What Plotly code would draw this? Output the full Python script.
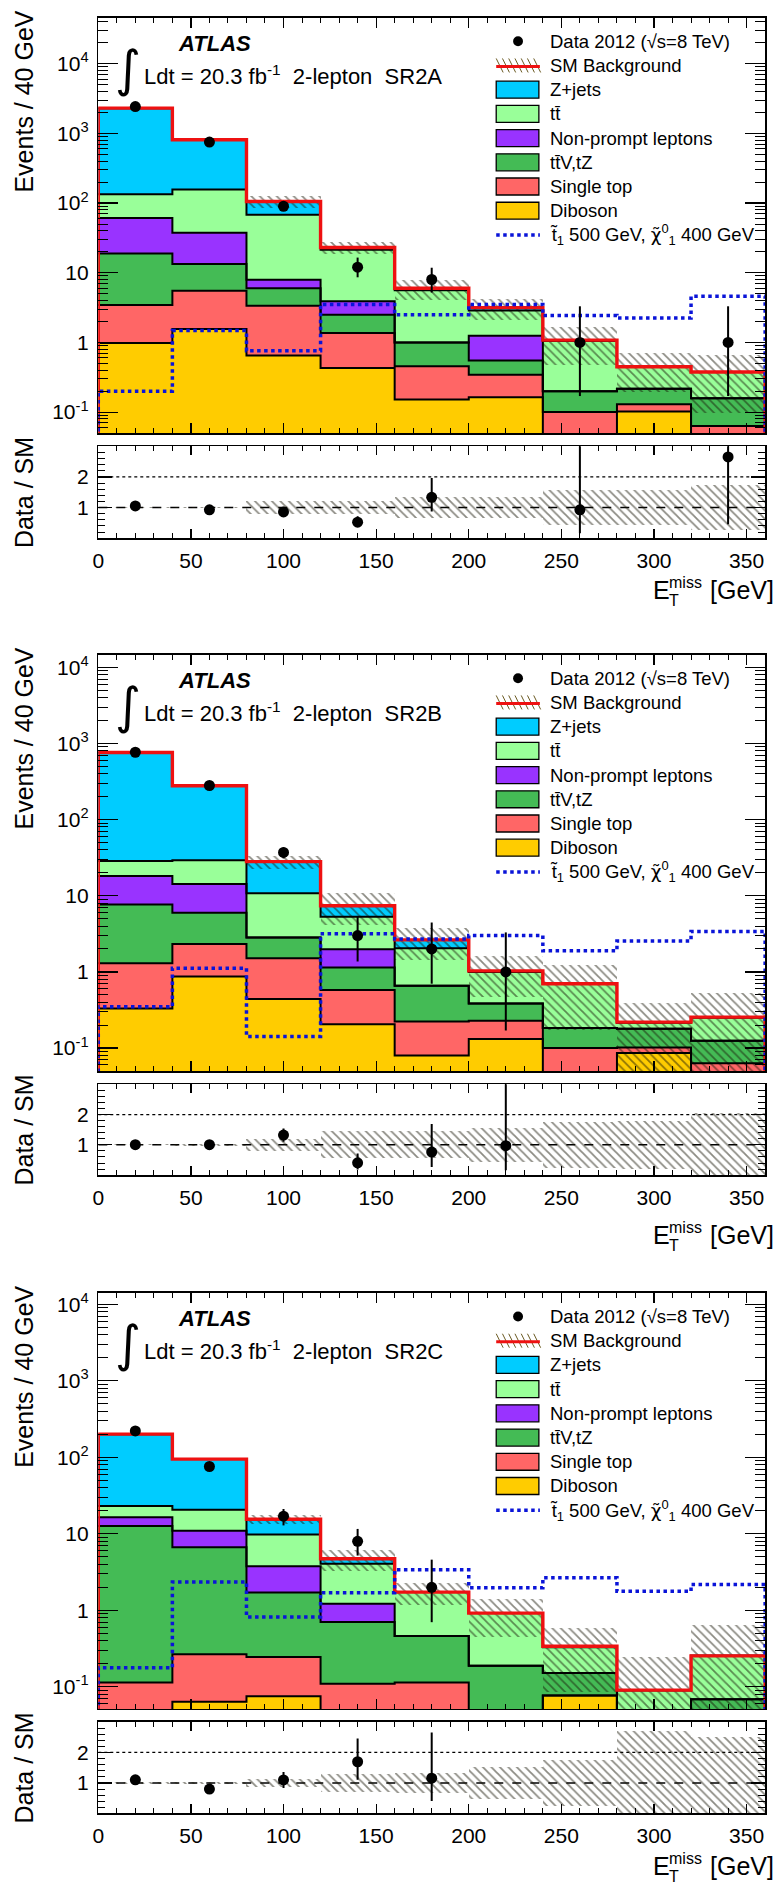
import numpy as np
import plotly.graph_objects as go

W, H = 782, 1890
FONT = "Liberation Sans, Arial, Helvetica, sans-serif"

# ---------------- data ----------------
bin_edges = [0, 40, 80, 120, 160, 200, 240, 280, 320, 360]
bin_centers = [20, 60, 100, 140, 180, 220, 260, 300, 340]
region_names = ["SR2A", "SR2B", "SR2C"]

# SR2A
sr2a_diboson = [0.98, 1.56, 0.65, 0.43, 0.152, 0.164, 0.0, 0.102, 0.0]
sr2a_singletop = [2.47, 3.94, 2.72, 0.93, 0.304, 0.179, 0.10, 0.028, 0.063]
sr2a_ttv = [15.5, 7.8, 2.63, 1.14, 0.544, 0.207, 0.10, 0.086, 0.095]
sr2a_nonprompt = [42.0, 24.2, 1.9, 1.39, 0.0, 0.70, 0.0, 0.0, 0.0]
sr2a_ttbar = [73.0, 119.5, 60.1, 17.5, 4.6, 1.61, 0.85, 0.231, 0.219]
sr2a_zjets = [2166.0, 653.0, 37.0, 1.6, 0.4, 0.3, 0.03, 0.0, 0.0]
sr2a_data = [2420, 750, 90, 12, 8, 0, 1, 0, 1]
sr2a_data_up = [49, 27, 9.5, 4.5, 3.8, 0, 2.3, 0, 2.3]
sr2a_data_dn = [49, 27, 9.5, 3.4, 2.8, 0, 0.83, 0, 0.83]
sr2a_signal = [0.20, 1.48, 0.76, 3.5, 2.5, 3.5, 2.43, 2.24, 4.6]
sr2a_relunc = [0.03, 0.03, 0.2, 0.2, 0.33, 0.33, 0.56, 0.56, 0.74]

# SR2B
sr2b_diboson = [0.33, 0.87, 0.44, 0.206, 0.08, 0.132, 0.0, 0.086, 0.0]
sr2b_singletop = [0.97, 1.46, 1.07, 0.374, 0.144, 0.097, 0.10, 0.016, 0.063]
sr2b_ttv = [6.4, 3.67, 1.31, 0.56, 0.432, 0.156, 0.083, 0.077, 0.062]
sr2b_nonprompt = [10.5, 8.3, 0.0, 0.85, 0.0, 0.0, 0.0, 0.0, 0.0]
sr2b_ttbar = [10.4, 14.9, 7.98, 3.31, 1.394, 0.615, 0.517, 0.036, 0.125]
sr2b_zjets = [731.0, 249.0, 17.2, 2.1, 0.58, 0.03, 0.0, 0.004, 0.005]
sr2b_data = [765, 280, 37, 3, 2, 1, 0, 0, 0]
sr2b_data_up = [28, 17, 6.1, 2.3, 2.45, 2.3, 0, 0, 0]
sr2b_data_dn = [28, 17, 6.1, 1.63, 1.3, 0.83, 0, 0, 0]
sr2b_signal = [0.35, 1.12, 0.142, 3.16, 2.7, 3.0, 1.89, 2.55, 3.4]
sr2b_relunc = [0.02, 0.04, 0.2, 0.45, 0.45, 0.55, 0.75, 0.8, 1.05]

# SR2C
sr2c_diboson = [0.0, 0.064, 0.075, 0.0, 0.0, 0.0, 0.077, 0.0, 0.0]
sr2c_singletop = [0.114, 0.203, 0.171, 0.11, 0.114, 0.0, 0.0, 0.0, 0.0]
sr2c_ttv = [12.59, 6.43, 1.47, 0.595, 0.348, 0.188, 0.075, 0.0, 0.069]
sr2c_nonprompt = [3.8, 4.3, 2.06, 0.515, 0.0, 0.0, 0.0, 0.0, 0.0]
sr2c_ttbar = [6.7, 9.7, 6.02, 2.84, 1.27, 0.732, 0.178, 0.0905, 0.185]
sr2c_zjets = [178.0, 74.3, 5.7, 0.66, 0.0, 0.0, 0.009, 0.0, 0.0]
sr2c_data = [222, 76, 17, 8, 2, 0, 0, 0, 0]
sr2c_data_up = [15, 8.7, 4.1, 3.6, 2.6, 0, 0, 0, 0]
sr2c_data_dn = [15, 8.7, 4.1, 2.8, 1.3, 0, 0, 0, 0]
sr2c_signal = [0.177, 2.35, 0.82, 1.70, 3.39, 1.98, 2.67, 1.77, 2.18]
sr2c_relunc = [0.03, 0.03, 0.14, 0.3, 0.33, 0.52, 0.75, 1.7, 1.5]

process_names = ["Diboson", "Single top", "tt\u0304V,tZ", "Non-prompt leptons", "tt\u0304", "Z+jets"]
process_colors = ["#ffcc00", "#ff6666", "#44bb55", "#9933ff", "#99ff99", "#00ccff"]

panels = [
    dict(comps=[sr2a_diboson, sr2a_singletop, sr2a_ttv, sr2a_nonprompt, sr2a_ttbar, sr2a_zjets],
         data=sr2a_data, up=sr2a_data_up, dn=sr2a_data_dn, sig=sr2a_signal, unc=sr2a_relunc),
    dict(comps=[sr2b_diboson, sr2b_singletop, sr2b_ttv, sr2b_nonprompt, sr2b_ttbar, sr2b_zjets],
         data=sr2b_data, up=sr2b_data_up, dn=sr2b_data_dn, sig=sr2b_signal, unc=sr2b_relunc),
    dict(comps=[sr2c_diboson, sr2c_singletop, sr2c_ttv, sr2c_nonprompt, sr2c_ttbar, sr2c_zjets],
         data=sr2c_data, up=sr2c_data_up, dn=sr2c_data_dn, sig=sr2c_signal, unc=sr2c_relunc),
]

# ---------------- layout geometry (pixels) ----------------
X0, X1 = 93, 765
main_top = [14.7, 652.7, 1292.0]
main_bot = [430.7, 1070.0, 1708.7]
ratio_top = [444.0, 1083.0, 1721.7]
ratio_bot = [536.0, 1174.0, 1813.3]
xtitle_y = [588, 1234, 1866]
main_yrange = [[-1.30, 4.66], [-1.305, 4.165], [-1.29, 4.15]]

TINY = 1e-6
HATCH = "#1a1808"
HATCH_PATTERN = dict(shape="\\", fgcolor=HATCH, bgcolor="rgba(0,0,0,0)", size=6, solidity=0.3)


def py(p):
    return 1 - p / H


def px(p):
    return p / W


fig = go.Figure()
annotations = []
shapes = []
layout_axes = {}

for i, P in enumerate(panels):
    nm = 2 * i + 1
    nr = 2 * i + 2
    xm, ym = f"x{nm}", f"y{nm}"
    xr, yr = f"x{nr}", f"y{nr}"

    comps = np.array(P["comps"], dtype=float)
    cum = np.cumsum(comps, axis=0)
    total = cum[-1]

    # stacked bars
    for k in range(6):
        base = cum[k - 1] if k > 0 else np.zeros(9)
        base_c = np.where(base > 0, base, TINY)
        fig.add_trace(go.Bar(
            x=bin_centers, y=cum[k] - base_c, base=base_c, width=40,
            marker=dict(color=process_colors[k], line=dict(width=0)),
            xaxis=xm, yaxis=ym, showlegend=False, hoverinfo="skip"))
    # stack outlines
    for k in range(6):
        yy = np.where(cum[k] > 0, cum[k], TINY)
        fig.add_trace(go.Scatter(
            x=bin_edges, y=list(yy) + [yy[-1]], mode="lines",
            line=dict(color="black", width=2, shape="hv"),
            xaxis=xm, yaxis=ym, showlegend=False, hoverinfo="skip"))
    # uncertainty hatch
    unc = np.array(P["unc"])
    lo = np.maximum(total * (1 - unc), TINY)
    hi = total * (1 + unc)
    fig.add_trace(go.Bar(
        x=bin_centers, y=hi - lo, base=lo, width=40,
        marker=dict(color="rgba(0,0,0,0)", line=dict(width=0), pattern=HATCH_PATTERN),
        xaxis=xm, yaxis=ym, showlegend=False, hoverinfo="skip"))
    # total red line
    fig.add_trace(go.Scatter(
        x=[0] + bin_edges + [360], y=[TINY] + list(total) + [total[-1], TINY], mode="lines",
        line=dict(color="#ee1111", width=3.4, shape="hv"),
        xaxis=xm, yaxis=ym, showlegend=False, hoverinfo="skip"))
    # signal
    sig = P["sig"]
    fig.add_trace(go.Scatter(
        x=[0] + bin_edges + [360], y=[TINY] + list(sig) + [sig[-1], TINY], mode="lines",
        line=dict(color="#0a14d8", width=3.5, shape="hv", dash="dot"),
        xaxis=xm, yaxis=ym, showlegend=False, hoverinfo="skip"))
    # data
    d = np.array(P["data"], dtype=float)
    mask = d > 0
    dx = [c for c, m in zip(bin_centers, mask) if m]
    dy = d[mask]
    dup = np.array(P["up"], dtype=float)[mask]
    ddn = np.array(P["dn"], dtype=float)[mask]
    fig.add_trace(go.Scatter(
        x=dx, y=dy, mode="markers",
        marker=dict(color="black", size=11),
        error_y=dict(type="data", array=dup, arrayminus=ddn, thickness=2, width=0, color="black"),
        xaxis=xm, yaxis=ym, showlegend=False, hoverinfo="skip"))

    # ---- ratio panel ----
    rlo = np.maximum(1 - unc, 0)
    rhi = 1 + unc
    fig.add_trace(go.Bar(
        x=bin_centers, y=rhi - rlo, base=rlo, width=40,
        marker=dict(color="rgba(0,0,0,0)", line=dict(width=0), pattern=HATCH_PATTERN),
        xaxis=xr, yaxis=yr, showlegend=False, hoverinfo="skip"))
    tot_m = total[mask]
    fig.add_trace(go.Scatter(
        x=dx, y=dy / tot_m, mode="markers",
        marker=dict(color="black", size=11),
        error_y=dict(type="data", array=dup / tot_m, arrayminus=ddn / tot_m,
                     thickness=2, width=0, color="black"),
        xaxis=xr, yaxis=yr, showlegend=False, hoverinfo="skip"))
    shapes.append(dict(type="line", xref=xr, yref=yr, x0=0, x1=360, y0=1, y1=1,
                       line=dict(color="black", width=1.5, dash="dash"), layer="below"))
    shapes.append(dict(type="line", xref=xr, yref=yr, x0=0, x1=360, y0=2, y1=2,
                       line=dict(color="black", width=1.3, dash="dot"), layer="below"))

    # ---- axes ----
    xdom = [px(X0), px(X1)]
    minor_log = [m * 10 ** e for e in range(-2, 5) for m in range(2, 10)]
    axcommon = dict(showline=True, linecolor="black", linewidth=1.5, mirror="allticks",
                    ticks="inside", tickcolor="black", showgrid=False, zeroline=False)
    key = "xaxis" if nm == 1 else f"xaxis{nm}"
    layout_axes[key] = dict(axcommon, domain=xdom, anchor=ym, range=[0, 360],
                            tickvals=[0, 50, 100, 150, 200, 250, 300, 350], ticklen=10, tickwidth=1.2,
                            showticklabels=False,
                            minor=dict(dtick=10, tick0=0, ticklen=5, ticks="inside", tickcolor="black", tickwidth=1))
    layout_axes["yaxis" if nm == 1 else f"yaxis{nm}"] = dict(
        axcommon, domain=[py(main_bot[i]), py(main_top[i])], anchor=xm, type="log",
        range=main_yrange[i], tickvals=[0.1, 1, 10, 100, 1000, 10000],
        ticktext=["10<sup>-1</sup>", "1", "10", "10<sup>2</sup>", "10<sup>3</sup>", "10<sup>4</sup>"],
        ticklen=20, tickwidth=1.2, ticklabelstandoff=4,
        tickfont=dict(size=21, family=FONT, color="black"),
        minor=dict(tickvals=minor_log, ticklen=10, ticks="inside", tickcolor="black", tickwidth=1))
    layout_axes[f"xaxis{nr}"] = dict(axcommon, domain=xdom, anchor=yr, range=[0, 360],
                                     tickvals=[0, 50, 100, 150, 200, 250, 300, 350],
                                     ticklen=9, tickwidth=1.2, ticklabelstandoff=3,
                                     tickfont=dict(size=21, family=FONT, color="black"),
                                     minor=dict(dtick=10, tick0=0, ticklen=5, ticks="inside",
                                                tickcolor="black", tickwidth=1))
    layout_axes[f"yaxis{nr}"] = dict(axcommon, domain=[py(ratio_bot[i]), py(ratio_top[i])], anchor=xr,
                                     range=[0, 3], tickvals=[1, 2], ticklen=14, tickwidth=1.2,
                                     ticklabelstandoff=4,
                                     tickfont=dict(size=21, family=FONT, color="black"),
                                     minor=dict(tickvals=[0.2, 0.4, 0.6, 0.8, 1.2, 1.4, 1.6, 1.8, 2.2, 2.4, 2.6, 2.8],
                                                ticklen=7, ticks="inside", tickcolor="black", tickwidth=1))

    # ---- texts ----
    t0 = main_top[i]
    annotations.append(dict(text="Events / 40 GeV", x=px(18), y=py(t0 - 9), xref="paper", yref="paper",
                            textangle=-90, xanchor="center", yanchor="top", showarrow=False,
                            font=dict(size=25, family=FONT, color="black")))
    annotations.append(dict(text="Data / SM", x=px(18), y=py((ratio_top[i] + ratio_bot[i]) / 2),
                            xref="paper", yref="paper", textangle=-90, xanchor="center",
                            yanchor="middle", showarrow=False,
                            font=dict(size=25, family=FONT, color="black")))
    # x-axis title E_T^miss [GeV]
    yt = xtitle_y[i]
    annotations.append(dict(text="E", x=px(650), y=py(yt), xref="paper", yref="paper",
                            xanchor="left", yanchor="middle", showarrow=False,
                            font=dict(size=25, family=FONT, color="black")))
    annotations.append(dict(text="miss", x=px(666), y=py(yt - 8), xref="paper", yref="paper",
                            xanchor="left", yanchor="middle", showarrow=False,
                            font=dict(size=16, family=FONT, color="black")))
    annotations.append(dict(text="T", x=px(666), y=py(yt + 10), xref="paper", yref="paper",
                            xanchor="left", yanchor="middle", showarrow=False,
                            font=dict(size=16, family=FONT, color="black")))
    annotations.append(dict(text="[GeV]", x=px(742), y=py(yt), xref="paper", yref="paper",
                            xanchor="center", yanchor="middle", showarrow=False,
                            font=dict(size=25, family=FONT, color="black")))
    # ATLAS label
    annotations.append(dict(text="<b><i>ATLAS</i></b>", x=px(171), y=py(t0 + 26), xref="paper", yref="paper",
                            xanchor="left", yanchor="middle", showarrow=False,
                            font=dict(size=22, family=FONT, color="black")))
    annotations.append(dict(text="\u222b", x=px(123), y=py(t0 + 51), xref="paper", yref="paper",
                            xanchor="center", yanchor="middle", showarrow=False,
                            font=dict(size=50, family="DejaVu Sans", color="black")))
    annotations.append(dict(text=f"Ldt = 20.3 fb<sup>-1</sup>  2-lepton  {region_names[i]}",
                            x=px(137), y=py(t0 + 57), xref="paper", yref="paper",
                            xanchor="left", yanchor="middle", showarrow=False,
                            font=dict(size=22, family=FONT, color="black")))
    # ---- legend ----
    rows = [t0 + 23.6 + 24.25 * r for r in range(9)]
    labels = ["Data 2012 (\u221as=8 TeV)", "SM Background", "Z+jets", "tt\u0304", "Non-prompt leptons",
              "tt\u0304V,tZ", "Single top", "Diboson",
              "t\u0303<sub>1</sub> 500 GeV, "
              "<span style='font-family:DejaVu Sans'>\u03c7\u0303</span><sup>0</sup><sub>1</sub> 400 GeV"]
    for r, lab in enumerate(labels):
        annotations.append(dict(text=lab, x=px(546), y=py(rows[r]), xref="paper", yref="paper",
                                xanchor="left", yanchor="middle", showarrow=False,
                                font=dict(size=18.5, family=FONT, color="black")))
    # data marker
    shapes.append(dict(type="circle", xref="paper", yref="paper",
                       x0=px(511), x1=px(521), y0=py(rows[0] + 5), y1=py(rows[0] - 5),
                       fillcolor="black", line=dict(color="black", width=0)))
    # SM background swatch: hatch + red line
    for j in range(7):
        xa = 494 + j * 6.3
        shapes.append(dict(type="line", xref="paper", yref="paper",
                           x0=px(xa), x1=px(xa + 7), y0=py(rows[1] - 7), y1=py(rows[1] + 7),
                           line=dict(color="#6b5a22", width=1)))
    shapes.append(dict(type="line", xref="paper", yref="paper",
                       x0=px(494), x1=px(538), y0=py(rows[1] + 1), y1=py(rows[1] + 1),
                       line=dict(color="#ee1111", width=3)))
    # process boxes (legend order top to bottom: zjets, ttbar, np, ttv, st, dib)
    for r, k in zip(range(2, 8), [5, 4, 3, 2, 1, 0]):
        shapes.append(dict(type="rect", xref="paper", yref="paper",
                           x0=px(494), x1=px(537), y0=py(rows[r] + 8.5), y1=py(rows[r] - 8.5),
                           fillcolor=process_colors[k], line=dict(color="black", width=1.3)))
    shapes.append(dict(type="line", xref="paper", yref="paper",
                       x0=px(494), x1=px(538), y0=py(rows[8]), y1=py(rows[8]),
                       line=dict(color="#0a14d8", width=3.5, dash="dot")))

fig.update_layout(
    width=W, height=H, margin=dict(l=0, r=0, t=0, b=0),
    paper_bgcolor="white", plot_bgcolor="white",
    barmode="overlay", bargap=0, showlegend=False,
    font=dict(family=FONT, color="black"),
    annotations=annotations, shapes=shapes,
    **layout_axes,
)

fig.write_html("out.html", config={"displayModeBar": False, "staticPlot": True},
               post_script="document.body.style.margin='0';document.body.style.overflow='hidden';")
